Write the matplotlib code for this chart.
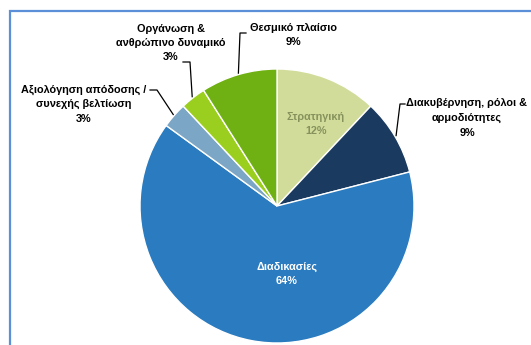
import numpy as np
import matplotlib.pyplot as plt
from matplotlib.patches import Rectangle

plt.rcParams['font.family'] = ['Liberation Sans', 'DejaVu Sans']

labels = ['Στρατηγική', 'Διακυβέρνηση, ρόλοι &\nαρμοδιότητες', 'Διαδικασίες',
          'Αξιολόγηση απόδοσης /\nσυνεχής βελτίωση', 'Οργάνωση &\nανθρώπινο δυναμικό',
          'Θεσμικό πλαίσιο']
shares = [12, 9, 64, 3, 3, 9]
colors = ['#d2dc9a', '#1a3a5f', '#2a7bbf', '#7ba6c6', '#9bcf1f', '#6fb012']

W, H = 531, 345
fig = plt.figure(figsize=(W / 100, H / 100), dpi=100)
ax = fig.add_axes([0, 0, 1, 1])

def px(x, y):
    # pixel position (top-left origin) to axes data
    return x, H - y

cx, cy = px(277, 206)
r = 137
wedges, _ = ax.pie(shares, colors=colors, startangle=90, counterclock=False,
                   center=(cx, cy), radius=r, frame=True,
                   wedgeprops=dict(edgecolor='white', linewidth=1))
ax.set_xlim(0, W)
ax.set_ylim(0, H)
ax.set_aspect('equal')
ax.axis('off')

# chart frame, runs off the right and bottom edge
ax.add_patch(Rectangle(px(10, 400), 600, 389, fill=False,
                       edgecolor='#5b8fd8', linewidth=1.6, clip_on=False))

def edge_point(w, k=1.0):
    a = np.deg2rad((w.theta1 + w.theta2) / 2)
    return cx + k * r * np.cos(a), cy + k * r * np.sin(a)

font = dict(fontsize=7.8, fontweight='bold', linespacing=1.55)

# labels inside the pie
ax.text(*px(316, 124), f'{labels[0]}\n{shares[0]}%', ha='center', va='center',
        color='#85925c', **font)
ax.text(*px(287, 274), f'{labels[2]}\n{shares[2]}%', ha='center', va='center',
        color='white', **font)

# outside labels with leader lines: (index, elbow, end, text centre)
outside = [
    (1, (400, 104), (405, 104), (467, 118)),
    (3, (157, 90), (150, 90), (84, 104)),
    (4, (190, 62), (183, 62), (171, 43)),
    (5, (240, 33), (246, 33), (293, 35)),
]
for i, elbow, end, pos in outside:
    x0, y0 = edge_point(wedges[i], 1.01)
    ex, ey = px(*elbow)
    tx, ty = px(*end)
    ax.plot([x0, ex, tx], [y0, ey, ty], color='black', linewidth=0.9)
    ax.text(*px(*pos), f'{labels[i]}\n{shares[i]}%', ha='center', va='center',
            color='black', **font)

fig.savefig('out.png', dpi=100)
